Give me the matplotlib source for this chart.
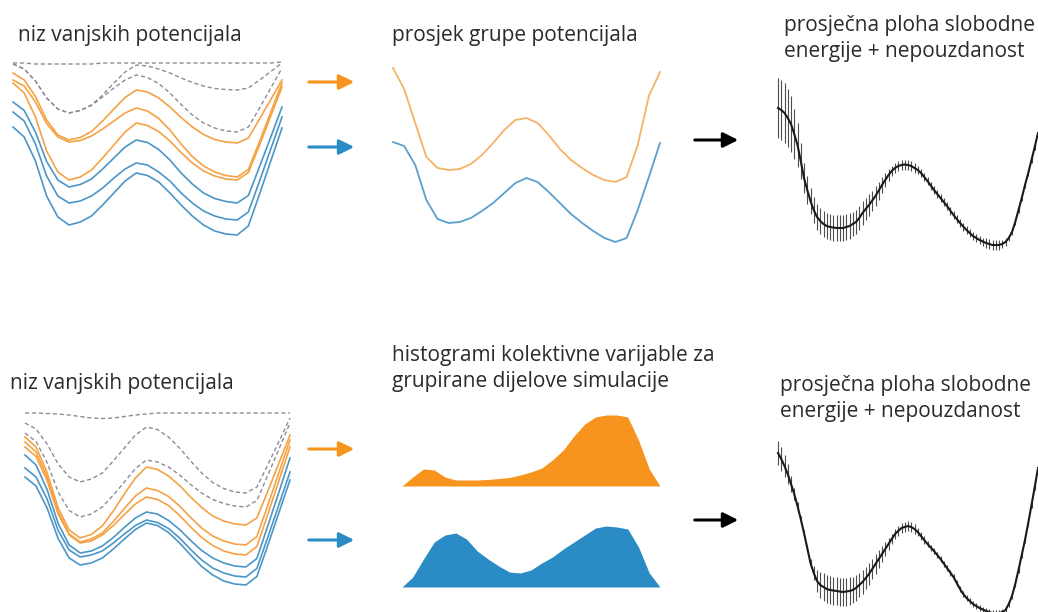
import matplotlib.pyplot as plt
import numpy as np
from matplotlib.patches import FancyArrowPatch

plt.rcParams['font.family'] = ['Open Sans', 'DejaVu Sans']

W, H = 1038, 612

# ---- data (energies in arbitrary units, 25 points along the collective variable) ----
# top row, external potentials
top_bias = [
    [187, 187, 186, 186, 186, 186, 186, 186, 187, 187, 187, 187, 187, 187, 187, 187, 187, 187, 187, 187, 187, 187, 187, 187, 188],
    [186, 181, 169, 152, 141, 137, 139.5, 145, 155, 167, 178, 185, 184, 181, 177, 172, 167.5, 164, 161.5, 160.5, 160, 162, 170, 178.5, 187],
    [186, 181, 169, 152, 141, 137, 139.5, 144.5, 153, 162, 170, 175, 172.5, 166.5, 157, 145.5, 135, 127, 122, 119, 118, 123, 142, 162, 182],
]
top_orange = [
    [177, 170, 153.5, 130, 115, 110, 112.5, 118.5, 129, 141, 152.5, 160, 158, 152, 143, 132.5, 123, 115.5, 110.5, 108, 107, 112, 131, 150.5, 170],
    [170, 164, 148, 126.5, 113, 108, 109.5, 114, 121, 129, 137, 142, 139, 131.5, 120, 106, 93.5, 84, 78, 74.5, 73, 80.5, 108.5, 138, 167],
    [167, 157, 133, 99, 78, 70, 73, 80, 92, 105, 118, 127, 124.5, 118.5, 109, 97.5, 87, 79, 74, 71, 70, 77.5, 105, 134, 163],
]
top_blue = [
    [148, 139.5, 118, 88.5, 70, 63, 65.5, 71, 81, 92, 103, 110, 107.5, 100.5, 90, 77, 66, 57, 51.5, 48.5, 47, 54.5, 83.5, 113, 143],
    [138, 129, 106, 74, 54, 47, 49, 54, 62, 72, 81, 87, 85, 78, 69, 57, 47, 39, 34, 31, 30, 38, 69, 101, 133],
    [123, 113, 89, 54, 33, 25, 28, 34, 45, 57, 69, 77, 74.5, 68, 57, 45, 34, 25, 19, 16, 15, 24, 56, 89, 122],
]
# averages of each group
mean_orange = [182, 161, 127, 93, 82, 80, 81, 86, 95, 107, 120, 130, 132, 127, 115, 101, 90, 82, 75, 70, 68, 73, 105, 154, 178]
mean_blue = [108, 104, 85, 50, 31, 27, 28, 32, 39, 47, 57, 67, 72, 68, 58, 47, 36, 27, 19, 12, 8, 12, 40, 73, 107]

# bottom row, external potentials
bot_bias = [
    [182, 182, 181.5, 181, 180, 178.5, 177, 176.5, 177, 178.5, 180, 181, 182, 182, 182, 182, 182, 182, 182, 182, 182, 182, 182, 182, 182],
    [172, 166, 151, 131, 118, 113, 116, 122, 134, 147, 160, 168, 165.5, 158, 147, 134, 122, 112.5, 106.5, 103, 102, 108, 130.5, 153.5, 177],
    [162, 153.5, 132.5, 103, 84.5, 78, 81, 88, 100, 113, 126.5, 135, 133, 128, 120, 110.5, 102, 95.5, 91.5, 89, 88, 94.5, 120, 146, 172],
]
bot_orange = [
    [158, 148, 122.5, 87, 65, 57, 60.5, 69, 84, 101, 117, 128, 125.5, 119, 109.5, 98, 87.5, 79, 74, 71, 70, 77, 104, 132, 160],
    [153, 143, 118, 83, 61, 53, 56, 62, 73.5, 86.5, 99, 107, 104.5, 98.5, 89, 77.5, 67, 59, 54, 51, 50, 58.5, 90, 122.5, 155],
    [148, 138.5, 114.5, 81, 60, 52, 54, 60, 69.5, 80.5, 91, 98, 95.5, 89.5, 79.5, 68, 57.5, 49.5, 44, 41, 40, 48.5, 81, 114.5, 148],
]
bot_blue = [
    [140, 130, 105.5, 71.5, 50, 42, 44, 49, 57.5, 67.5, 77, 83, 81, 74.5, 65.5, 54.5, 44.5, 37, 32, 29, 28, 36.5, 69.5, 103, 137],
    [127, 118, 96, 64.5, 45, 38, 40, 44, 52, 61, 69.5, 75, 72.5, 66.5, 57, 45.5, 35, 27, 22, 19, 18, 26.5, 58, 90.5, 123],
    [118, 109, 87, 56.5, 37, 30, 32, 37, 46, 56, 65.5, 72, 69.5, 62.5, 52, 40, 28.5, 20, 14, 11, 10, 18.5, 50, 82.5, 115],
]
# histograms of the collective variable
hist_orange = [0, 9, 17, 16, 9, 6, 6, 6, 6.5, 7.5, 8.5, 11, 14, 18, 26, 36, 50, 62, 69, 71, 71, 69, 46, 17, 0]
hist_blue = [0, 10, 28, 45, 52, 54, 48, 36, 28, 21, 15, 14, 17, 24, 30, 38, 45, 52, 59, 61, 60, 58, 40, 14, 0]

# average free energy surfaces with uncertainty (81 points)
fes_top = [152, 150, 147, 142, 136, 126, 115, 99, 82, 70, 59, 50, 43, 39, 36, 34, 33, 32.5, 32, 32,
           32, 33, 34, 36, 38, 42, 47, 51, 55, 59.5, 64, 69.5, 75, 80, 85, 89, 92, 94, 95, 95.5,
           95, 94, 92, 90, 87, 83, 79, 74.5, 70, 66, 62, 58, 54, 49.5, 45, 41, 37, 33.5, 30, 27,
           24, 22, 20, 18.5, 17, 16, 15, 15, 15, 16, 18, 22, 28, 38, 50, 62, 75, 87, 100, 113, 127]
err_top = [30, 30, 30, 29, 28, 25, 22, 18, 15, 14, 13, 13, 13, 13, 13, 13, 13, 13, 13, 13,
           13, 13, 13, 12, 12, 12, 12, 11, 11, 10, 10, 9, 8, 7, 6, 5, 5, 5, 5, 5,
           5, 5, 5, 4, 4, 4, 4, 4, 4, 4, 4, 4, 4, 4, 4, 4, 4, 4, 4, 4,
           4, 4, 4, 4, 5, 5, 5, 5, 5, 4, 4, 3, 3, 3, 3, 3, 3, 3, 3, 3, 3]
fes_bot = [167, 161, 154, 146, 136, 126, 114, 101, 87, 72, 57, 47, 39, 35, 33, 31, 30, 29.5, 29, 28.5,
           28, 28.5, 29, 30, 32, 35, 38, 42, 46, 51, 56, 61, 66, 71, 76, 81, 86, 89, 92, 93,
           94, 93, 91, 88, 84, 80, 76, 72.5, 69, 65, 61, 56.5, 52, 47.5, 43, 37, 31, 26, 22, 19,
           16, 14, 12, 10.5, 9, 8, 7, 7, 7, 8, 10, 16, 24, 36, 50, 65, 80, 97, 115, 133, 152]
err_bot = [12, 12, 11, 10, 8, 6, 4, 3, 3, 3, 4, 7, 11, 13, 14, 14, 14, 14, 14, 14,
           14, 14, 14, 13, 13, 12, 12, 11, 11, 10, 10, 9, 8, 7, 6, 5, 5, 5, 5, 5,
           5, 5, 5, 4, 4, 4, 3, 3, 3, 3, 3, 3, 3, 3, 3, 3, 3, 3, 3, 3,
           3, 3, 3, 3, 3, 3, 3, 3, 3, 3, 3, 3, 3, 3, 3, 3, 3, 3, 3, 3, 3]

titles = {
    'top_left': ['niz vanjskih potencijala'],
    'top_mid': ['prosjek grupe potencijala'],
    'top_right': ['prosječna ploha slobodne', 'energije + nepouzdanost'],
    'bot_left': ['niz vanjskih potencijala'],
    'bot_mid': ['histogrami kolektivne varijable za', 'grupirane dijelove simulacije'],
    'bot_right': ['prosječna ploha slobodne', 'energije + nepouzdanost'],
}

ORANGE = '#f5a244'
BLUE = '#4b96c8'
GREY = '#8b8b9b'
ORANGE_FILL = '#f7941d'
BLUE_FILL = '#2b8bc4'

fig = plt.figure(figsize=(W / 100, H / 100), dpi=100)


def px_axes(x0, y0, x1, y1, xmax, ymax):
    ax = fig.add_axes([x0 / W, 1 - y1 / H, (x1 - x0) / W, (y1 - y0) / H])
    ax.set_xlim(0, xmax)
    ax.set_ylim(0, ymax)
    ax.axis('off')
    return ax


def potentials(ax, bias, orange, blue):
    xs = np.arange(len(bias[0]))
    for c in bias:
        ax.plot(xs, c, color=GREY, lw=1.0, ls=(0, (3, 2)), clip_on=False)
    for c in orange:
        ax.plot(xs, c, color=ORANGE, lw=1.2, clip_on=False, solid_joinstyle='round')
    for c in blue:
        ax.plot(xs, c, color=BLUE, lw=1.2, clip_on=False, solid_joinstyle='round')


def fes(ax, y, err):
    xs = np.arange(len(y))
    ax.errorbar(xs, y, yerr=err, color='#1a1a1a', lw=1.5, ecolor='#4d4d4d',
                elinewidth=0.8, capsize=0, clip_on=False)


def title(key, x, y0, dy=26):
    for k, line in enumerate(titles[key]):
        fig.text(x / W, 1 - (y0 + k * dy) / H, line, fontsize=15, color='#2b2b2b',
                 va='baseline', ha='left')


def arrow(x0, x1, y, color):
    fig.patches.append(FancyArrowPatch(
        (x0 / W, 1 - y / H), (x1 / W, 1 - y / H), transform=fig.transFigure,
        arrowstyle='-|>,head_length=0.6,head_width=0.3', mutation_scale=15,
        color=color, lw=2.2))


# top row
ax = px_axes(13, 55, 282, 250, 24, 195)
potentials(ax, top_bias, top_orange, top_blue)

ax = px_axes(393, 55, 660, 250, 24, 195)
xs = np.arange(len(mean_orange))
ax.plot(xs, mean_orange, color='#f6b266', lw=1.3, clip_on=False, solid_joinstyle='round')
ax.plot(xs, mean_blue, color='#5b9fcd', lw=1.3, clip_on=False, solid_joinstyle='round')

ax = px_axes(778, 60, 1038, 260, 80, 200)
fes(ax, fes_top, err_top)

# bottom row
ax = px_axes(25, 400, 290, 595, 24, 195)
potentials(ax, bot_bias, bot_orange, bot_blue)

ax = px_axes(402, 400, 660, 486, 24, 86)
xs = np.arange(len(hist_orange))
ax.fill_between(xs, 0, hist_orange, color=ORANGE_FILL, lw=0)
ax = px_axes(402, 500, 660, 587, 24, 87)
ax.fill_between(xs, 0, hist_blue, color=BLUE_FILL, lw=0)

ax = px_axes(778, 420, 1038, 620, 80, 200)
fes(ax, fes_bot, err_bot)

# titles
title('top_left', 18, 41)
title('top_mid', 392, 41)
title('top_right', 784, 31)
title('bot_left', 10, 389)
title('bot_mid', 392, 361)
title('bot_right', 780, 391)

# arrows
arrow(306, 357, 82, ORANGE_FILL)
arrow(306, 357, 147, BLUE_FILL)
arrow(692, 741, 140, 'black')
arrow(306, 357, 449, ORANGE_FILL)
arrow(306, 357, 540, BLUE_FILL)
arrow(692, 741, 520, 'black')

fig.savefig('out.png', dpi=100)
